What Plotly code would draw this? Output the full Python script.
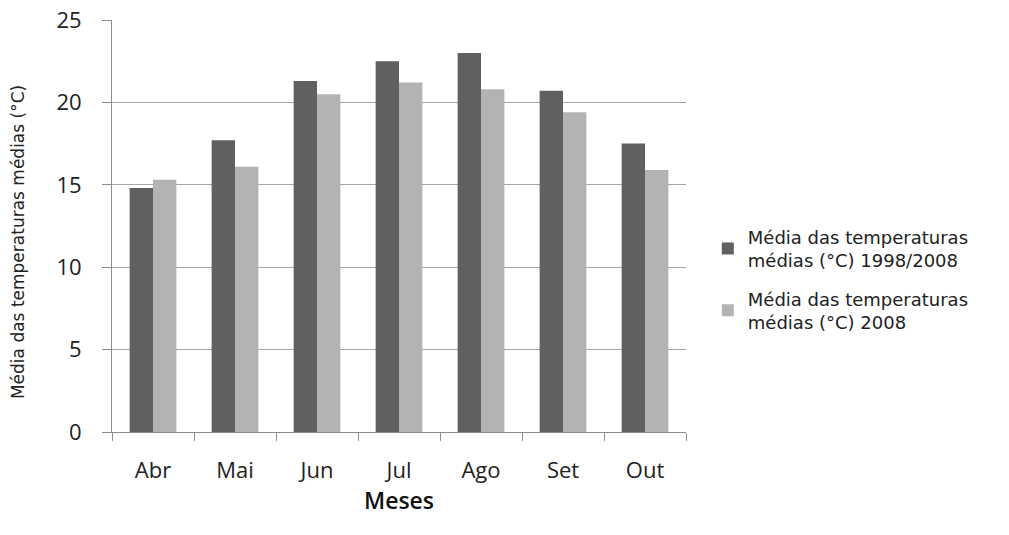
import plotly.graph_objects as go

months = ["Abr", "Mai", "Jun", "Jul", "Ago", "Set", "Out"]
media_1998_2008 = [14.8, 17.7, 21.3, 22.5, 23.0, 20.7, 17.5]
media_2008 = [15.3, 16.1, 20.5, 21.2, 20.8, 19.4, 15.9]
series_names = ["Média das temperaturas<br>médias (°C) 1998/2008",
                "Média das temperaturas<br>médias (°C) 2008"]
y_ticks = [0, 5, 10, 15, 20, 25]
y_title = "Média das temperaturas médias (°C)"

fig = go.Figure()
fig.add_trace(go.Bar(x=months, y=media_1998_2008, name=series_names[0], legendgroup="a",
                     marker=dict(color="#606060", line=dict(width=0))))
fig.add_trace(go.Bar(x=months, y=media_2008, name=series_names[1], legendgroup="b",
                     marker=dict(color="#b3b3b3", line=dict(width=0))))

fig.update_layout(
    width=1009, height=535,
    margin=dict(l=112, r=323, t=20, b=103),
    paper_bgcolor="white", plot_bgcolor="white",
    barmode="group", bargap=0.43, bargroupgap=0,
    font=dict(family="DejaVu Sans", color="#222222"),
    legend=dict(x=1.038, y=0.37, xanchor="left", yanchor="middle",
                font=dict(family="DejaVu Sans", size=18, color="#222222"),
                tracegroupgap=12, itemwidth=30),
    showlegend=True,
)
fig.add_annotation(
    text=y_title, textangle=-90, showarrow=False,
    xref="paper", yref="paper", x=-0.1638, y=0.461,
    xanchor="center", yanchor="middle",
    font=dict(family="DejaVu Sans", size=17, color="#222222"),
)
fig.update_xaxes(
    automargin=False,
    showline=True, linecolor="#8c8c8c", linewidth=1,
    ticks="outside", tickson="boundaries", ticklen=8, tickcolor="#8c8c8c",
    tickfont=dict(family="Open Sans", size=22, color="#222222"),
    ticklabelstandoff=19,
    title=dict(text="Meses", font=dict(family="Open Sans", size=23, weight=600, color="#111111"), standoff=2),
    showgrid=False,
)
fig.update_yaxes(
    automargin=False,
    range=[0, 25], tickvals=y_ticks,
    showline=True, linecolor="#8c8c8c", linewidth=1,
    ticks="outside", ticklen=9, tickcolor="#8c8c8c",
    tickfont=dict(family="Open Sans", size=22, color="#222222"),
    ticklabelstandoff=16,
    showgrid=True, gridcolor="#a6a6a6", gridwidth=1,
    zeroline=False,
)
fig.write_html("out.html", config={"displayModeBar": False},
               post_script="document.body.style.margin='0';")
